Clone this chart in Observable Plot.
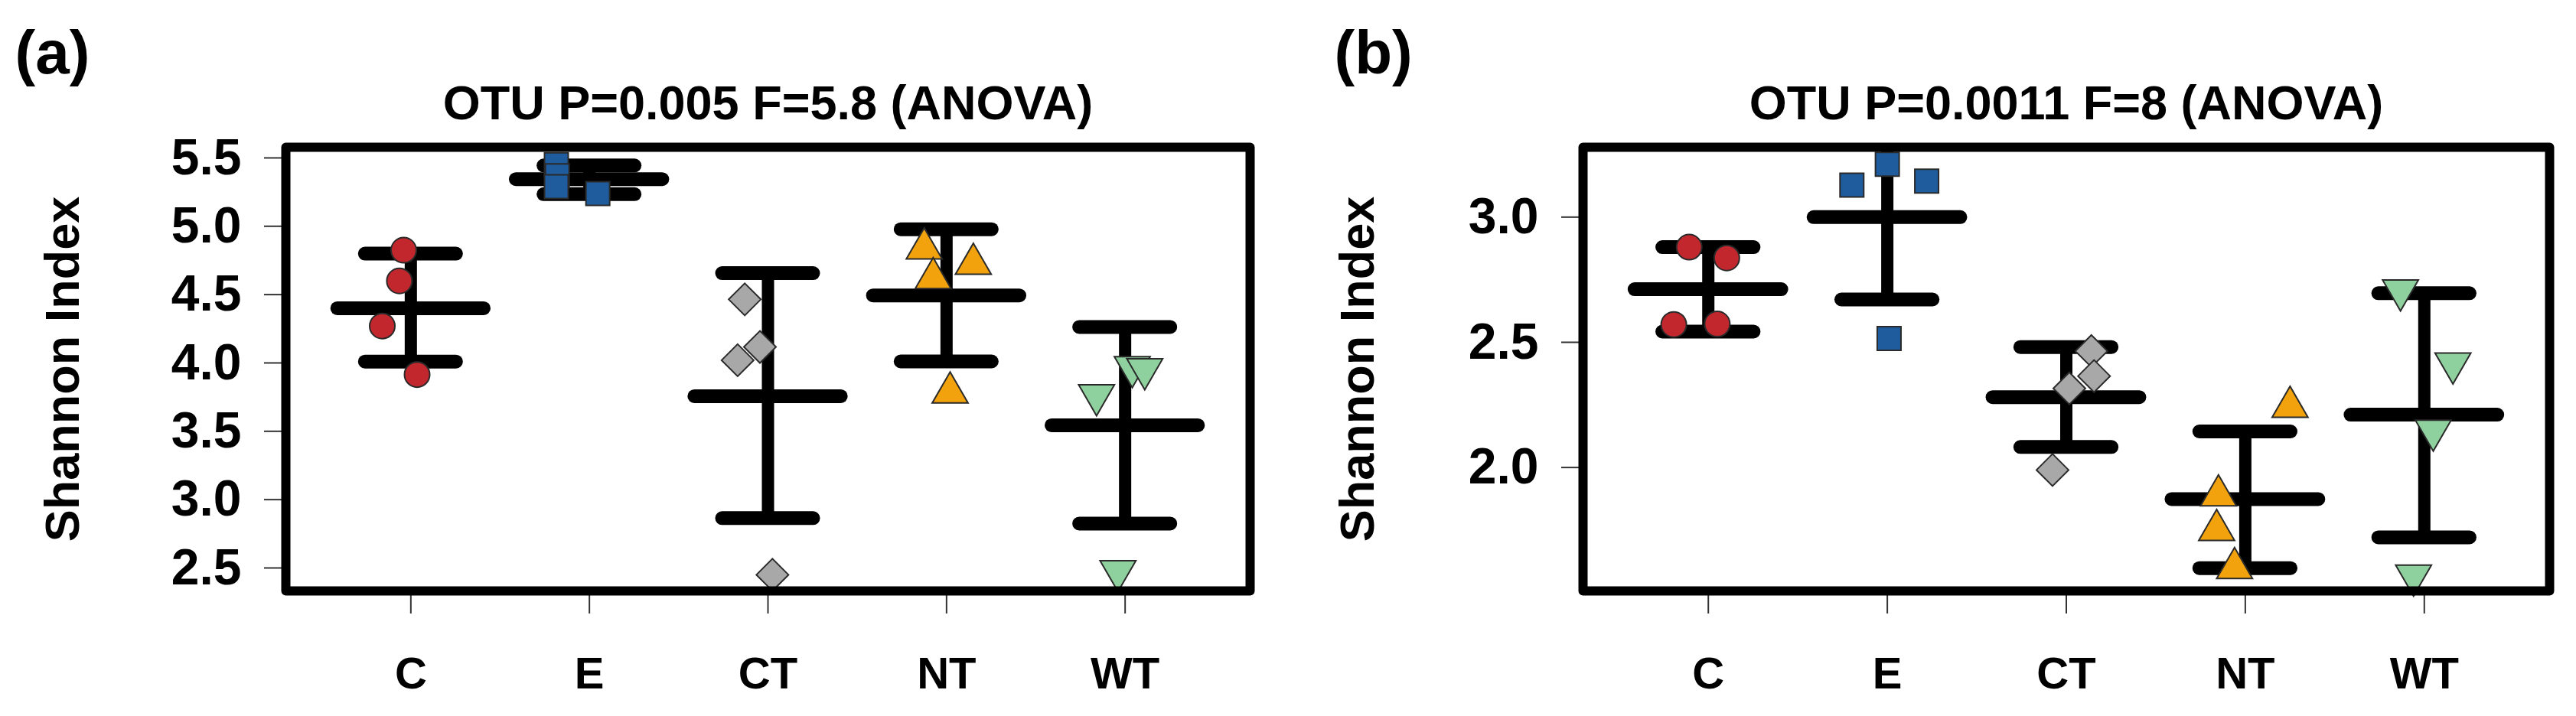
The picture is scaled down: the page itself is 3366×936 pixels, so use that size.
<!DOCTYPE html>
<html>
<head>
<meta charset="utf-8">
<script src="https://cdn.jsdelivr.net/npm/d3@7"></script>
<script src="https://cdn.jsdelivr.net/npm/@observablehq/plot@0.6"></script>
<style>
html, body { margin: 0; padding: 0; background: #fff; overflow: hidden; }
#wrap { display: flex; width: 3366px; height: 936px; }
#wrap svg { display: block; flex: none; }
</style>
</head>
<body>
<div id="wrap"></div>
<script>
// ---------- data ----------
const groups = ["C", "E", "CT", "NT", "WT"];

// Panel (a)
const titleA = "OTU P=0.005 F=5.8 (ANOVA)";
const yTicksA = [2.5, 3.0, 3.5, 4.0, 4.5, 5.0, 5.5];
const meanA  = [4.40, 5.345, 3.757, 4.494, 3.544];
const lowerA = [4.01, 5.235, 2.865, 4.011, 2.825];
const upperA = [4.80, 5.445, 4.657, 4.978, 4.263];
const valuesA = [
  [4.825, 4.60, 4.27, 3.915],
  [5.45, 5.37, 5.29, 5.24],
  [4.465, 4.117, 4.02, 2.45],
  [4.836, 4.724, 4.62, 3.783],
  [3.765, 3.97, 3.955, 2.478]
];
const jitterA = [
  [-0.04, -0.064, -0.16, 0.035],
  [-0.185, -0.18, -0.185, 0.047],
  [-0.13, -0.045, -0.17, 0.025],
  [-0.125, 0.15, -0.075, 0.02],
  [-0.16, 0.04, 0.11, -0.04]
];

// Panel (b)
const titleB = "OTU P=0.0011 F=8 (ANOVA)";
const yTicksB = [2.0, 2.5, 3.0];
const meanB  = [2.712, 3.0, 2.281, 1.874, 2.211];
const lowerB = [2.543, 2.671, 2.082, 1.598, 1.721];
const upperB = [2.88, 3.329, 2.481, 2.144, 2.696];
const valuesB = [
  [2.88, 2.837, 2.571, 2.573],
  [3.211, 3.128, 3.144, 2.515],
  [2.465, 2.365, 2.316, 1.99],
  [2.242, 1.888, 1.75, 1.598],
  [2.708, 2.416, 2.148, 1.569]
];
const jitterB = [
  [-0.107, 0.103, -0.193, 0.05],
  [0.0, -0.198, 0.22, 0.01],
  [0.14, 0.155, 0.017, -0.077],
  [0.25, -0.15, -0.16, -0.06],
  [-0.133, 0.16, 0.05, -0.06]
];

// ---------- styles ----------
const FONT = "'Liberation Sans', Arial, Helvetica, sans-serif";
const COLORS = ["#c1272d", "#1f5c9e", "#a8a8a8", "#f2a20c", "#8fd19e"];
const rOf = s => Math.sqrt(s / Math.PI);
const SYMS = [
  { draw(c, s) { const r = rOf(s); c.moveTo(r, 0); c.arc(0, 0, r, 0, 2 * Math.PI); c.closePath(); } },
  { draw(c, s) { const r = rOf(s); c.moveTo(-r, -r); c.lineTo(r, -r); c.lineTo(r, r); c.lineTo(-r, r); c.closePath(); } },
  { draw(c, s) { const r = rOf(s); c.moveTo(0, -r); c.lineTo(r, 0); c.lineTo(0, r); c.lineTo(-r, 0); c.closePath(); } },
  { draw(c, s) { const r = rOf(s), h = r * Math.sqrt(3) / 2; c.moveTo(0, -r); c.lineTo(h, r / 2); c.lineTo(-h, r / 2); c.closePath(); } },
  { draw(c, s) { const r = rOf(s), h = r * Math.sqrt(3) / 2; c.moveTo(0, r); c.lineTo(h, -r / 2); c.lineTo(-h, -r / 2); c.closePath(); } }
];
const RADII = [16.5, 15.5, 21, 27, 27];
const CAP = 0.255, MEANW = 0.41;

function panel(o) {
  const stats = groups.map((g, i) => ({ g: i + 1, m: o.mean[i], lo: o.lower[i], hi: o.upper[i] }));
  const pts = groups.flatMap((g, i) => o.values[i].map((v, j) => ({ g: i + 1, x: i + 1 + o.jitter[i][j], y: v })));
  const barOpts = { strokeWidth: 18, strokeLinecap: "round", stroke: "black", clip: true };
  return Plot.plot({
    width: 1683, height: 936,
    marginLeft: o.ml, marginRight: o.mr, marginTop: 192, marginBottom: 164,
    x: { domain: [0.3, 5.7] },
    y: { domain: o.domain },
    style: { fontFamily: FONT, background: "white", color: "black", overflow: "visible" },
    marks: [
      Plot.axisY({ ticks: o.ticks, tickFormat: d3.format(".1f"), tickSize: 28, tickPadding: 30,
        fontSize: 66, fontWeight: "bold", label: null, strokeWidth: 2, stroke: "#333" }),
      Plot.axisX({ ticks: [1, 2, 3, 4, 5], tickFormat: d => groups[d - 1], tickSize: 30, tickPadding: 56,
        fontSize: 58, fontWeight: "bold", label: null, strokeWidth: 2, stroke: "#333" }),
      Plot.ruleX(stats, { x: "g", y1: "lo", y2: "hi", strokeWidth: 16, stroke: "black", clip: true }),
      Plot.ruleY(stats, { y: "hi", x1: d => d.g - CAP, x2: d => d.g + CAP, ...barOpts }),
      Plot.ruleY(stats, { y: "lo", x1: d => d.g - CAP, x2: d => d.g + CAP, ...barOpts }),
      Plot.ruleY(stats, { y: "m", x1: d => d.g - MEANW, x2: d => d.g + MEANW, ...barOpts }),
      ...groups.map((g, i) => Plot.dot(pts.filter(p => p.g === i + 1), {
        x: "x", y: "y", symbol: SYMS[i], r: RADII[i], fill: COLORS[i], stroke: "#2a2a2a", strokeWidth: 2
      })),
      Plot.frame({ stroke: "black", strokeWidth: 12, strokeLinejoin: "round" }),
      Plot.text([o.title], { frameAnchor: "top", dy: -37, lineAnchor: "bottom", fontSize: 63, fontWeight: "bold" }),
      Plot.text([o.tag], { frameAnchor: "top-left", dx: o.tagDx, dy: -97, textAnchor: "start", lineAnchor: "bottom", fontSize: 80, fontWeight: "bold" }),
      Plot.text(["Shannon Index"], { frameAnchor: "left", dx: o.ylabDx, rotate: -90, textAnchor: "middle", lineAnchor: "middle", fontSize: 63, fontWeight: "bold" })
    ]
  });
}

const wrap = document.getElementById("wrap");
wrap.append(panel({
  mean: meanA, lower: lowerA, upper: upperA, values: valuesA, jitter: jitterA,
  domain: [2.332, 5.578], ticks: yTicksA, title: titleA, tag: "(a)",
  ml: 373, mr: 50, tagDx: -354, ylabDx: -291
}));
wrap.append(panel({
  mean: meanB, lower: lowerB, upper: upperB, values: valuesB, jitter: jitterB,
  domain: [1.507, 3.279], ticks: yTicksB, title: titleB, tag: "(b)",
  ml: 385, mr: 35, tagDx: -325, ylabDx: -294
}));
</script>
</body>
</html>
